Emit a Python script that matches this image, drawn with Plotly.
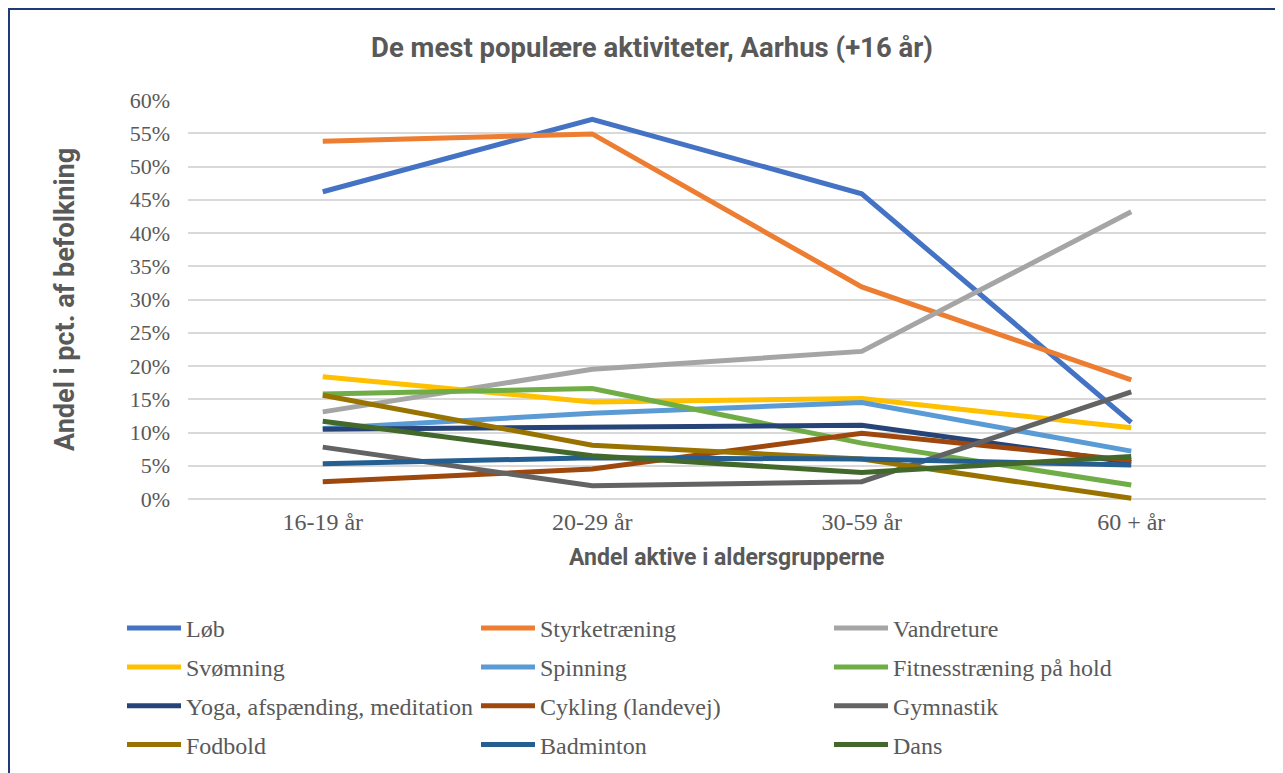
import plotly.graph_objects as go

# Aldersgrupper (x-akse)
ages = ["16-19 år", "20-29 år", "30-59 år", "60 + år"]

# Andel i pct. af befolkningen per aktivitet
lob = [46.2, 57.1, 45.9, 11.5]
styrke = [53.8, 54.9, 31.9, 17.9]
vandre = [13.1, 19.5, 22.2, 43.2]
svom = [18.4, 14.6, 15.1, 10.7]
spinning = [10.6, 12.9, 14.5, 7.2]
fitness = [15.8, 16.6, 8.4, 2.1]
yoga = [10.5, 10.8, 11.1, 5.5]
cykling = [2.6, 4.5, 9.9, 5.8]
gymnastik = [7.8, 2.0, 2.6, 16.1]
fodbold = [15.6, 8.1, 6.0, 0.1]
badminton = [5.3, 6.2, 6.0, 5.1]
dans = [11.7, 6.5, 4.0, 6.4]

# y-akse ticks
y_ticks = [0, 5, 10, 15, 20, 25, 30, 35, 40, 45, 50, 55, 60]
y_ticktext = [f"{v}%" for v in y_ticks]

names = ["Løb", "Styrketræning", "Vandreture", "Svømning", "Spinning",
         "Fitnesstræning på hold", "Yoga, afspænding, meditation",
         "Cykling (landevej)", "Gymnastik", "Fodbold", "Badminton", "Dans"]
series = [lob, styrke, vandre, svom, spinning, fitness, yoga, cykling,
          gymnastik, fodbold, badminton, dans]
colors = ["#4472C4", "#ED7D31", "#A5A5A5", "#FFC000", "#5B9BD5", "#70AD47",
          "#264478", "#9E480E", "#636363", "#997300", "#255E91", "#43682B"]

OFF = 8  # body margin of the page
W, H = 1283 - OFF, 773 - OFF
L, R, T, B = 188 - OFF, 17, 100 - OFF, 270
PW, PH = W - L - R, H - T - B
TXT = "#595959"
SERIF = "Liberation Serif, Times New Roman, serif"
SANS = "Roboto, Noto Sans, sans-serif"


def px_x(px):
    return (px - OFF - L) / PW


def px_y(py):
    return (T + PH - (py - OFF)) / PH


fig = go.Figure()
for i, (name, vals, col) in enumerate(zip(names, series, colors)):
    fig.add_trace(go.Scatter(
        x=ages, y=vals, name=name, mode="lines",
        line=dict(color=col, width=5),
        legend=["legend", "legend2", "legend3"][i % 3],
        legendgroup=name,
        hovertemplate="<b>%{x}</b><br>" + name + ": %{y:.1f}%<extra></extra>"
    ))

legend_style = dict(
    orientation="v", xanchor="left", yanchor="top",
    y=px_y(606), font=dict(family=SERIF, size=24, color=TXT),
    itemwidth=54, tracegroupgap=4.6, traceorder="grouped",
    bgcolor="rgba(0,0,0,0)"
)

fig.update_layout(
    width=W, height=H,
    paper_bgcolor="white",
    plot_bgcolor="white",
    margin=dict(l=L, r=R, t=T, b=B, autoexpand=False),
    showlegend=True,
    title=dict(
        text="De mest populære aktiviteter, Aarhus (+16 år)",
        x=(652 - OFF) / W, xref="container", xanchor="center",
        y=1 - (47 - OFF) / H, yanchor="middle",
        font=dict(family=SANS, size=27.5, color=TXT, weight="bold")
    ),
    xaxis=dict(
        range=[-0.5, 3.5],
        showgrid=False, zeroline=False, showline=False,
        tickfont=dict(family=SERIF, size=24, color=TXT),
        ticks="", ticklabelstandoff=2
    ),
    yaxis=dict(
        range=[-0.6, 60], tickvals=y_ticks, ticktext=y_ticktext,
        showgrid=True, gridcolor="#D9D9D9", gridwidth=2,
        zeroline=False, showline=False,
        tickfont=dict(family=SERIF, size=22, color=TXT),
        ticks="", ticklabelstandoff=17
    ),
    legend=dict(legend_style, x=px_x(122)),
    legend2=dict(legend_style, x=px_x(476)),
    legend3=dict(legend_style, x=px_x(829)),
    annotations=[
        dict(text="Andel i pct. af befolkning", textangle=-90,
             xref="paper", yref="paper", x=px_x(65), y=px_y(300),
             xanchor="center", yanchor="middle", showarrow=False,
             font=dict(family=SANS, size=27, color=TXT, weight="bold")),
        dict(text="Andel aktive i aldersgrupperne",
             xref="paper", yref="paper", x=px_x(727), y=px_y(557),
             xanchor="center", yanchor="middle", showarrow=False,
             font=dict(family=SANS, size=23, color=TXT, weight="bold")),
    ],
    shapes=[
        dict(type="rect", xref="paper", yref="paper",
             x0=px_x(9), x1=px_x(1300), y0=px_y(790), y1=px_y(9),
             line=dict(color="#1F3A78", width=2), fillcolor="rgba(0,0,0,0)",
             layer="below")
    ],
    hoverlabel=dict(font_family=SERIF, font_size=14)
)

fig.write_html("out.html")
